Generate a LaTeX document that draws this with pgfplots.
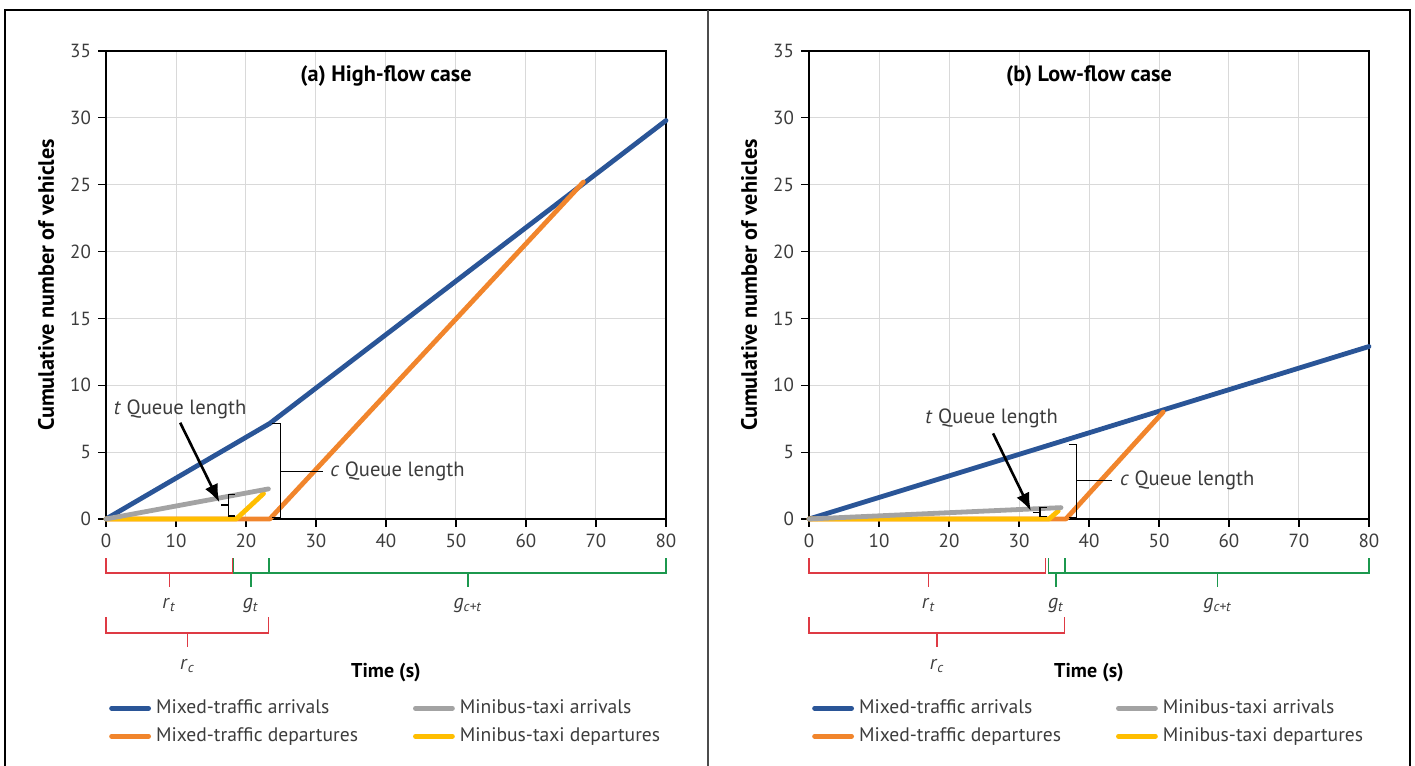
\documentclass[border=0pt]{standalone}
\usepackage{fontspec}
\setmainfont{PT Sans}
\usepackage{pgfplots}
\pgfplotsset{compat=1.18}
\usetikzlibrary{arrows.meta}

\definecolor{cblue}{RGB}{42,85,151}
\definecolor{corange}{RGB}{241,133,44}
\definecolor{cgrey}{RGB}{163,163,163}
\definecolor{cyellow}{RGB}{255,190,0}
\definecolor{cred}{RGB}{222,58,68}
\definecolor{cgreen}{RGB}{28,152,78}
\definecolor{gridgrey}{RGB}{217,217,217}
\definecolor{txt}{RGB}{60,60,60}

\newcommand{\fs}{\fontsize{9.5}{11}\selectfont}
\newcommand{\fl}{\fontsize{9.8}{11}\selectfont}
\newcommand{\fa}{\fontsize{10.3}{12}\selectfont}
\newcommand{\fb}{\fontsize{10}{12}\selectfont}

\tikzset{
  dline/.style={line width=2.4pt, line cap=round, line join=round},
  qb/.style={black, line width=0.6pt},
  brk/.style={line width=0.7pt},
}

\pgfplotsset{
  panel/.style={
    scale only axis, width=280pt, height=234pt,
    xmin=0, xmax=80, ymin=0, ymax=35,
    xtick={0,10,...,80}, ytick={0,5,...,35},
    grid=major, grid style={line width=0.5pt, draw=gridgrey},
    axis line style={line width=0.7pt},
    tick style={black, line width=0.6pt},
    tick align=outside, tick pos=left, major tick length=4pt,
    ticklabel style={font=\fs, text=txt},
    /pgf/number format/assume math mode=true,
    clip=false,
    ylabel={\bfseries Cumulative number of vehicles},
    ylabel style={font=\fontsize{11.1}{13}\selectfont, anchor=center, at={(axis description cs:-0.107,0.5)}},
    legend columns=2,
    legend cell align=left,
    legend style={draw=none, fill=none, inner sep=0pt, font=\fl, text=txt,
      anchor=north west, at={(axis cs:0.4,-13.2)}, row sep=1.5pt,
      /tikz/every odd column/.append style={column sep=0.5pt},
      /tikz/every even column/.append style={column sep=25.5pt}},
    legend image code/.code={\draw[#1, line width=2.4pt, line cap=round] (0pt,0pt) -- (18.5pt,0pt);},
  },
}

\begin{document}
\begin{tikzpicture}
\path[use as bounding box] (0,0) rectangle (707.5pt,383pt);
\draw[line width=0.8pt] (2.5pt,0) -- (2.5pt,378pt) -- (705pt,378pt) -- (705pt,0);
\draw[line width=1.1pt, black!70] (354pt,0) -- (354pt,378pt);

% ---------- (a) high flow ----------
\begin{axis}[panel, at={(53pt,123.5pt)}, anchor=south west]
\addlegendimage{cblue, dline}
\addlegendentry{Mixed-traffic arrivals}
\addlegendimage{cgrey, dline}
\addlegendentry{Minibus-taxi arrivals}
\addlegendimage{corange, dline}
\addlegendentry{Mixed-traffic departures}
\addlegendimage{cyellow, dline}
\addlegendentry{Minibus-taxi departures}

\addplot[cblue, dline, forget plot] coordinates {(0,0) (23.4,7.15) (80,29.8)};
\addplot[corange, dline, forget plot] coordinates {(0,0) (23.4,0) (68.2,25.2)};
\addplot[cyellow, dline, forget plot] coordinates {(0,0) (18.6,0) (22.5,1.9)};
\addplot[cgrey, dline, forget plot] coordinates {(0,0) (23.2,2.25)};

\node[font=\fontsize{11.1}{13}\selectfont\bfseries] at (axis cs:40,33.1) {(a) High-flow case};
% c queue
\draw[qb] (axis cs:23.7,7.15) -- (axis cs:24.9,7.15) -- (axis cs:24.9,0.1) -- (axis cs:23.7,0.1);
\draw[qb] (axis cs:24.9,3.55) -- (axis cs:31,3.55);
\node[anchor=west, font=\fa, text=txt, inner sep=0pt] at (axis cs:32,3.55) {\textit{c} Queue length};
% t queue
\draw[qb] (axis cs:18.4,1.85) -- (axis cs:17.5,1.85) -- (axis cs:17.5,0.22) -- (axis cs:18.4,0.22);
\draw[qb] (axis cs:17.5,1.05) -- (axis cs:16.4,1.05);
\node[font=\fa, text=txt, inner sep=0pt] at (axis cs:10.6,8.2) {\textit{t} Queue length};
\draw[black, line width=1.3pt, -{Latex[length=9pt,width=7pt]}] (axis cs:10.6,7.2) -- (axis cs:16.2,1.25);
% signal brackets
\draw[cred, brk] (axis cs:0,-2.92) -- (axis cs:0,-4.04) -- (axis cs:18.06,-4.04) -- (axis cs:18.06,-2.92);
\draw[cred, brk] (axis cs:9.03,-4.04) -- (axis cs:9.03,-5.09);
\draw[cgreen, brk] (axis cs:18.2,-2.92) -- (axis cs:18.2,-4.04) -- (axis cs:23.25,-4.04) -- (axis cs:23.25,-2.92);
\draw[cgreen, brk] (axis cs:20.7,-4.04) -- (axis cs:20.7,-5.09);
\draw[cgreen, brk] (axis cs:23.4,-2.92) -- (axis cs:23.4,-4.04) -- (axis cs:80,-4.04) -- (axis cs:80,-2.92);
\draw[cgreen, brk] (axis cs:51.7,-4.04) -- (axis cs:51.7,-5.09);
\draw[cred, brk] (axis cs:0,-7.33) -- (axis cs:0,-8.53) -- (axis cs:23.25,-8.53) -- (axis cs:23.25,-7.33);
\draw[cred, brk] (axis cs:11.65,-8.53) -- (axis cs:11.65,-9.57);
\node[anchor=base, font=\fb, text=txt] at (axis cs:9.03,-6.73) {\textit{r}\textsubscript{\textit{t}}};
\node[anchor=base, font=\fb, text=txt] at (axis cs:20.7,-6.73) {\textit{g}\textsubscript{\textit{t}}};
\node[anchor=base, font=\fb, text=txt] at (axis cs:51.7,-6.73) {\textit{g}\textsubscript{\textit{c+t}}};
\node[anchor=base, font=\fb, text=txt] at (axis cs:11.65,-11.29) {\textit{r}\textsubscript{\textit{c}}};
\node[anchor=base, font=\fb\bfseries] at (axis cs:40,-11.82) {Time (s)};
\end{axis}

% ---------- (b) low flow ----------
\begin{axis}[panel, at={(404.5pt,123.5pt)}, anchor=south west]
\addlegendimage{cblue, dline}
\addlegendentry{Mixed-traffic arrivals}
\addlegendimage{cgrey, dline}
\addlegendentry{Minibus-taxi arrivals}
\addlegendimage{corange, dline}
\addlegendentry{Mixed-traffic departures}
\addlegendimage{cyellow, dline}
\addlegendentry{Minibus-taxi departures}

\addplot[cblue, dline, forget plot] coordinates {(0,0) (36.5,5.88) (80,12.9)};
\addplot[corange, dline, forget plot] coordinates {(0,0) (36.7,0) (50.6,8.0)};
\addplot[cyellow, dline, forget plot] coordinates {(0,0) (34.3,0) (35.6,0.6)};
\addplot[cgrey, dline, forget plot] coordinates {(0,0) (36.0,0.85)};

\node[font=\fontsize{11.1}{13}\selectfont\bfseries] at (axis cs:40,33.1) {(b) Low-flow case};
% c queue
\draw[qb] (axis cs:37.2,5.55) -- (axis cs:38.2,5.55) -- (axis cs:38.2,0.1) -- (axis cs:37.2,0.1);
\draw[qb] (axis cs:38.2,2.87) -- (axis cs:43.3,2.87);
\node[anchor=west, font=\fa, text=txt, inner sep=0pt] at (axis cs:44.4,2.87) {\textit{c} Queue length};
% t queue
\draw[qb] (axis cs:33.95,0.87) -- (axis cs:33.0,0.87) -- (axis cs:33.0,0.17) -- (axis cs:33.95,0.17);
\draw[qb] (axis cs:33.0,0.5) -- (axis cs:32.0,0.5);
\node[font=\fa, text=txt, inner sep=0pt] at (axis cs:26.1,7.55) {\textit{t} Queue length};
\draw[black, line width=1.3pt, -{Latex[length=9pt,width=7pt]}] (axis cs:26.3,6.4) -- (axis cs:31.7,0.6);
% signal brackets
\draw[cred, brk] (axis cs:0,-2.92) -- (axis cs:0,-4.04) -- (axis cs:33.8,-4.04) -- (axis cs:33.8,-2.92);
\draw[cred, brk] (axis cs:17.1,-4.04) -- (axis cs:17.1,-5.09);
\draw[cgreen, brk] (axis cs:34.2,-2.92) -- (axis cs:34.2,-4.04) -- (axis cs:36.5,-4.04) -- (axis cs:36.5,-2.92);
\draw[cgreen, brk] (axis cs:35.3,-4.04) -- (axis cs:35.3,-5.09);
\draw[cgreen, brk] (axis cs:36.6,-2.92) -- (axis cs:36.6,-4.04) -- (axis cs:80,-4.04) -- (axis cs:80,-2.92);
\draw[cgreen, brk] (axis cs:58.4,-4.04) -- (axis cs:58.4,-5.09);
\draw[cred, brk] (axis cs:0,-7.33) -- (axis cs:0,-8.53) -- (axis cs:36.5,-8.53) -- (axis cs:36.5,-7.33);
\draw[cred, brk] (axis cs:18.3,-8.53) -- (axis cs:18.3,-9.57);
\node[anchor=base, font=\fb, text=txt] at (axis cs:17.1,-6.73) {\textit{r}\textsubscript{\textit{t}}};
\node[anchor=base, font=\fb, text=txt] at (axis cs:35.3,-6.73) {\textit{g}\textsubscript{\textit{t}}};
\node[anchor=base, font=\fb, text=txt] at (axis cs:58.4,-6.73) {\textit{g}\textsubscript{\textit{c+t}}};
\node[anchor=base, font=\fb, text=txt] at (axis cs:18.3,-11.29) {\textit{r}\textsubscript{\textit{c}}};
\node[anchor=base, font=\fb\bfseries] at (axis cs:40,-11.82) {Time (s)};
\end{axis}
\end{tikzpicture}
\end{document}
